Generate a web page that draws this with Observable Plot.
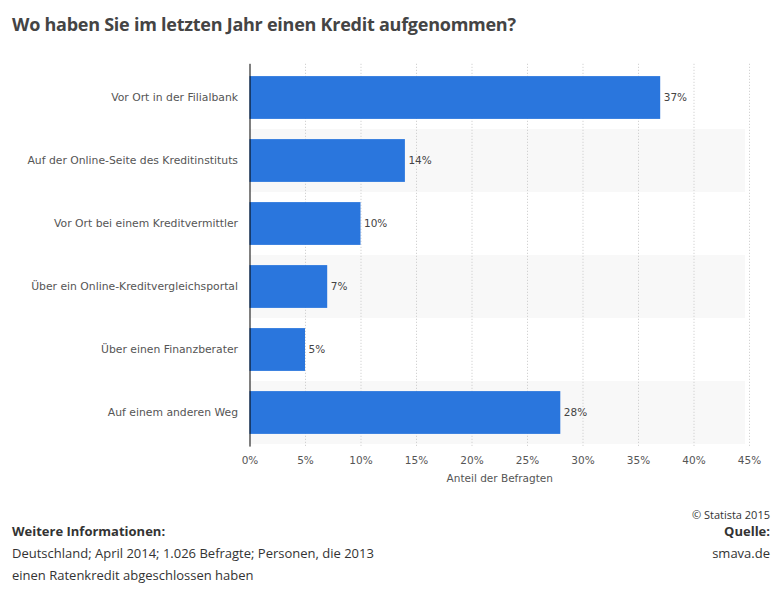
<!DOCTYPE html>
<html><head><meta charset="utf-8">
<script src="https://cdn.jsdelivr.net/npm/d3@7"></script>
<script src="https://cdn.jsdelivr.net/npm/@observablehq/plot@0.6"></script>
<style>
body{margin:0;background:#fff;width:783px;height:597px;position:relative;overflow:hidden;font-family:"Open Sans",sans-serif;}
#title{position:absolute;left:12px;top:12px;font-size:18px;font-weight:bold;color:#444;letter-spacing:-0.25px;}
#chart{position:absolute;left:0;top:50px;}
.f{position:absolute;font-size:13px;color:#333;white-space:nowrap;}
</style></head><body>
<div id="title">Wo haben Sie im letzten Jahr einen Kredit aufgenommen?</div>
<div id="chart"></div>
<div class="f" style="left:12px;top:522px;font-weight:bold;">Weitere Informationen:</div>
<div class="f" style="left:12px;top:544px;">Deutschland; April 2014; 1.026 Befragte; Personen, die 2013</div>
<div class="f" style="left:12px;top:566px;">einen Ratenkredit abgeschlossen haben</div>
<div class="f" style="right:13px;top:507px;font-size:11px;">© Statista 2015</div>
<div class="f" style="right:13px;top:522px;font-weight:bold;">Quelle:</div>
<div class="f" style="right:13px;top:544px;">smava.de</div>
<script>
const categories = ["Vor Ort in der Filialbank","Auf der Online-Seite des Kreditinstituts","Vor Ort bei einem Kreditvermittler","Über ein Online-Kreditvergleichsportal","Über einen Finanzberater","Auf einem anderen Weg"];
const values = [37,14,10,7,5,28];
const xTicks = [0,5,10,15,20,25,30,35,40,45];

const data = categories.map((c,i)=>({cat:c,value:values[i]}));
const stripes = categories.filter((c,i)=>i%2===1);

const chart = Plot.plot({
  width:783, height:440,
  marginLeft:249.5, marginRight:34, marginTop:13.8, marginBottom:43.4,
  style:{fontFamily:"'DejaVu Sans', sans-serif", fontSize:"10.5px", color:"#555", background:"transparent"},
  x:{domain:[0,45], ticks:xTicks, tickFormat:d=>d+"%", tickSize:0, tickPadding:9, label:"Anteil der Befragten", labelArrow:"none", labelAnchor:"center", labelOffset:35},
  y:{domain:categories, padding:0, label:null},
  marks:[
    Plot.barX(stripes,{y:d=>d, x1:0, x2:45, fill:"#f8f8f8", insetRight:4}),
    Plot.ruleX(xTicks.filter(t=>t>0),{stroke:"#c8c8c8", strokeDasharray:"1,2", strokeWidth:1}),
    Plot.barX(data,{y:"cat", x:"value", fill:"#2a76dd", insetTop:10.1, insetBottom:10.1}),
    Plot.text(data,{y:"cat", x:"value", text:d=>d.value+"%", textAnchor:"start", dx:3, fill:"#444", fontSize:10.5}),
    Plot.axisY({tickSize:0, tickPadding:12, fontSize:10.8, label:null}),
    Plot.ruleX([0],{stroke:"#000", strokeWidth:1})
  ]
});
document.getElementById("chart").appendChild(chart);
</script>
</body></html>
